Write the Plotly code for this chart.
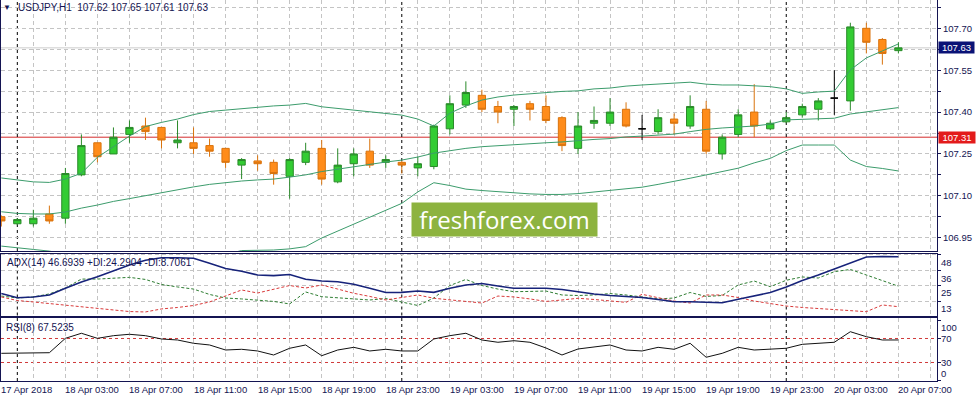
import numpy as np
import plotly.graph_objects as go

# ---------------- data (USDJPY H1, 17 Apr 23:00 .. 20 Apr 07:00) ----------------
bar_open = [107.025, 107.00, 107.00, 107.035, 107.02, 107.175, 107.29, 107.25, 107.32, 107.35,
            107.345, 107.29, 107.29, 107.28, 107.27, 107.21, 107.225, 107.22, 107.17, 107.22,
            107.27, 107.15, 107.215, 107.26, 107.22, 107.22, 107.20, 107.205, 107.34, 107.425,
            107.46, 107.42, 107.41, 107.43, 107.42, 107.38, 107.27, 107.36, 107.36, 107.41,
            107.34, 107.33, 107.375, 107.35, 107.41, 107.25, 107.32, 107.40, 107.34, 107.365,
            107.39, 107.41, 107.45, 107.44, 107.70, 107.66, 107.62]
bar_high = [107.03, 107.02, 107.05, 107.065, 107.20, 107.32, 107.29, 107.345, 107.37, 107.38,
            107.345, 107.37, 107.345, 107.305, 107.27, 107.235, 107.245, 107.23, 107.235, 107.29,
            107.30, 107.27, 107.27, 107.305, 107.245, 107.225, 107.24, 107.355, 107.46, 107.51,
            107.48, 107.44, 107.425, 107.44, 107.46, 107.385, 107.40, 107.42, 107.45, 107.435,
            107.39, 107.41, 107.395, 107.46, 107.44, 107.32, 107.41, 107.50, 107.37, 107.40,
            107.43, 107.45, 107.55, 107.72, 107.72, 107.665, 107.65]
bar_low = [106.99, 106.995, 106.99, 107.00, 107.00, 107.17, 107.22, 107.25, 107.29, 107.30,
           107.27, 107.27, 107.25, 107.24, 107.20, 107.16, 107.19, 107.14, 107.09, 107.21,
           107.14, 107.145, 107.17, 107.20, 107.20, 107.18, 107.17, 107.195, 107.32, 107.415,
           107.40, 107.36, 107.35, 107.37, 107.36, 107.26, 107.25, 107.34, 107.35, 107.345,
           107.30, 107.32, 107.32, 107.34, 107.25, 107.23, 107.31, 107.31, 107.335, 107.36,
           107.38, 107.37, 107.39, 107.405, 107.61, 107.57, 107.61]
bar_close = [107.01, 107.015, 107.02, 107.01, 107.18, 107.28, 107.24, 107.31, 107.345, 107.33,
             107.30, 107.30, 107.27, 107.26, 107.22, 107.23, 107.215, 107.18, 107.23, 107.26,
             107.16, 107.21, 107.25, 107.21, 107.23, 107.21, 107.215, 107.35, 107.43, 107.47,
             107.41, 107.40, 107.42, 107.41, 107.37, 107.28, 107.35, 107.37, 107.40, 107.35,
             107.34, 107.38, 107.36, 107.42, 107.26, 107.31, 107.39, 107.35, 107.36, 107.38,
             107.42, 107.44, 107.45, 107.705, 107.65, 107.61, 107.63]

bb_upper = [107.164, 107.157, 107.150, 107.148, 107.160, 107.181, 107.238, 107.276, 107.314, 107.348,
            107.363, 107.375, 107.391, 107.402, 107.407, 107.413, 107.418, 107.422, 107.425, 107.431,
            107.419, 107.413, 107.407, 107.401, 107.396, 107.389, 107.375, 107.350, 107.396, 107.422,
            107.443, 107.454, 107.461, 107.466, 107.469, 107.474, 107.476, 107.483, 107.486, 107.493,
            107.497, 107.500, 107.504, 107.507, 107.500, 107.497, 107.497, 107.495, 107.491, 107.483,
            107.467, 107.472, 107.475, 107.551, 107.594, 107.619, 107.644]
bb_mid = [107.043, 107.037, 107.035, 107.035, 107.042, 107.056, 107.067, 107.080, 107.090, 107.101,
          107.112, 107.121, 107.132, 107.141, 107.148, 107.153, 107.157, 107.160, 107.167, 107.175,
          107.187, 107.196, 107.203, 107.214, 107.221, 107.228, 107.239, 107.253, 107.262, 107.270,
          107.276, 107.280, 107.284, 107.287, 107.290, 107.293, 107.298, 107.302, 107.305, 107.311,
          107.314, 107.318, 107.321, 107.330, 107.338, 107.343, 107.346, 107.350, 107.357, 107.372,
          107.374, 107.376, 107.378, 107.393, 107.400, 107.407, 107.416]
bb_lower = [106.920, 106.913, 106.908, 106.902, 106.892, 106.877, 106.863, 106.852, 106.845, 106.841,
            106.841, 106.845, 106.852, 106.863, 106.890, 106.904, 106.905, 106.906, 106.910, 106.918,
            106.949, 106.974, 106.999, 107.024, 107.049, 107.073, 107.114, 107.147, 107.137, 107.124,
            107.119, 107.115, 107.110, 107.107, 107.105, 107.105, 107.108, 107.114, 107.119, 107.124,
            107.131, 107.141, 107.151, 107.163, 107.175, 107.187, 107.199, 107.218, 107.234, 107.262,
            107.282, 107.282, 107.282, 107.228, 107.205, 107.198, 107.189]

adx = [18.7, 15.5, 16.1, 17.6, 22.7, 27.5, 31.5, 35.8, 40.4, 44.0,
       45.9, 45.9, 45.5, 41.7, 37.7, 35.6, 32.8, 32.3, 33.2, 29.5,
       28.2, 27.7, 25.7, 22.7, 19.5, 19.6, 20.6, 19.6, 22.7, 25.2,
       26.3, 24.4, 22.7, 22.7, 22.7, 21.8, 19.9, 18.4, 17.2, 16.4,
       15.7, 14.2, 12.5, 12.5, 12.0, 11.7, 14.3, 16.8, 19.5, 23.7,
       28.6, 32.8, 37.3, 41.9, 46.5, 46.9, 46.69]
plus_di = [16.8, 15.3, 16.1, 18.4, 22.9, 29.7, 29.7, 30.3, 31.0, 29.4,
           25.6, 23.7, 22.1, 18.0, 15.3, 14.6, 13.8, 12.7, 10.8, 19.9,
           16.3, 15.3, 14.6, 13.8, 14.9, 12.3, 9.6, 15.3, 24.8, 29.4,
           24.8, 22.1, 20.1, 20.3, 20.6, 17.6, 17.2, 17.6, 18.7, 17.6,
           16.1, 14.6, 15.3, 19.5, 16.5, 17.2, 25.2, 28.2, 23.9, 28.8,
           31.3, 30.5, 35.3, 37.0, 32.8, 28.6, 24.29]
minus_di = [16.1, 13.4, 12.3, 11.1, 10.0, 8.9, 7.7, 6.6, 5.0, 4.7,
            7.0, 8.1, 9.6, 12.3, 16.8, 21.4, 19.1, 22.1, 24.8, 22.9,
            25.2, 22.1, 18.9, 16.5, 13.8, 15.7, 17.6, 15.1, 13.8, 12.5,
            11.5, 16.8, 16.1, 14.6, 12.7, 13.8, 15.1, 14.2, 13.3, 12.0,
            18.1, 15.3, 13.0, 11.5, 17.6, 17.6, 15.7, 13.0, 11.3, 9.2,
            8.1, 7.2, 6.2, 5.4, 4.9, 10.0, 8.71]
rsi = [45.3, 45.8, 45.8, 46.3, 70.3, 78.7, 70.3, 74.7, 77.0, 74.7,
       69.2, 67.5, 62.0, 59.2, 50.8, 52.0, 49.2, 42.5, 53.7, 59.2,
       41.3, 50.8, 55.3, 49.2, 52.0, 49.2, 49.2, 69.2, 74.7, 78.7,
       67.5, 63.7, 66.3, 63.7, 54.2, 42.5, 52.5, 56.3, 59.2, 50.8,
       49.2, 55.3, 52.0, 62.0, 38.7, 45.3, 55.3, 50.8, 52.5, 53.7,
       60.3, 62.0, 63.7, 81.3, 73.0, 67.5, 67.52]

tick_idx = [0, 4, 8, 12, 16, 20, 24, 28, 32, 36, 40, 44, 48, 52, 56]
tick_labels = ["17 Apr 2018", "18 Apr 03:00", "18 Apr 07:00", "18 Apr 11:00", "18 Apr 15:00",
               "18 Apr 19:00", "18 Apr 23:00", "19 Apr 03:00", "19 Apr 07:00", "19 Apr 11:00",
               "19 Apr 15:00", "19 Apr 19:00", "19 Apr 23:00", "20 Apr 03:00", "20 Apr 07:00"]
day_starts = [1, 25, 49]
price_grid = [106.95, 107.025, 107.10, 107.175, 107.25, 107.325, 107.40, 107.475,
              107.55, 107.625, 107.70, 107.775]
price_text = ["106.95", "", "107.10", "", "107.25", "", "107.40", "", "107.55", "", "107.70", ""]
level_line = 107.31
adx_levels = [48, 36, 25, 13]
rsi_levels = [70, 30]
rsi_labels = [100, 70, 30, 0]
adx_title = "ADX(14) 46.6939 +DI:24.2904 -DI:8.7061"
rsi_title = "RSI(8) 67.5235"

# ---------------- styling ----------------
FONT = "Liberation Sans, Arial, sans-serif"
NAVY = "#141452"
GRID = "#c4c4c4"
BAND = "#3c9c6c"

idx = np.arange(len(bar_open))
o = np.array(bar_open); h = np.array(bar_high); l = np.array(bar_low); c = np.array(bar_close)
doji = o == c
norm = ~doji

fig = go.Figure()

for band in (bb_upper, bb_mid, bb_lower):
    fig.add_trace(go.Scatter(x=idx, y=band, mode="lines", line=dict(color=BAND, width=1),
                             hoverinfo="skip", xaxis="x", yaxis="y"))

fig.add_trace(go.Candlestick(
    x=idx[norm], open=o[norm], high=h[norm], low=l[norm], close=c[norm],
    increasing=dict(line=dict(color="#2a8a2a", width=1), fillcolor="#33cc33"),
    decreasing=dict(line=dict(color="#d9730d", width=1), fillcolor="#ff8c1a"),
    whiskerwidth=0, hoverinfo="skip", xaxis="x", yaxis="y"))
fig.add_trace(go.Candlestick(
    x=idx[doji], open=o[doji], high=h[doji], low=l[doji], close=c[doji],
    increasing=dict(line=dict(color="#000000", width=1), fillcolor="#000000"),
    decreasing=dict(line=dict(color="#000000", width=1), fillcolor="#000000"),
    whiskerwidth=0, hoverinfo="skip", xaxis="x", yaxis="y"))

fig.add_trace(go.Scatter(x=idx, y=plus_di, mode="lines",
                         line=dict(color="#2e7d32", width=1, dash="3px,2px"),
                         hoverinfo="skip", xaxis="x", yaxis="y2"))
fig.add_trace(go.Scatter(x=idx, y=minus_di, mode="lines",
                         line=dict(color="#d83a3a", width=1, dash="3px,2px"),
                         hoverinfo="skip", xaxis="x", yaxis="y2"))
fig.add_trace(go.Scatter(x=idx, y=adx, mode="lines", line=dict(color="#17237a", width=1.6),
                         hoverinfo="skip", xaxis="x", yaxis="y2"))

fig.add_trace(go.Scatter(x=idx, y=rsi, mode="lines", line=dict(color="#111111", width=1),
                         hoverinfo="skip", xaxis="x", yaxis="y3"))

shapes = []
shapes.append(dict(type="line", xref="x domain", x0=0, x1=1, yref="y", y0=c[-1], y1=c[-1],
                   line=dict(color="#cccccc", width=1), layer="below"))
shapes.append(dict(type="line", xref="x domain", x0=0, x1=1, yref="y", y0=level_line, y1=level_line,
                   line=dict(color="#d42a2a", width=1), layer="below"))
for lv in rsi_levels:
    shapes.append(dict(type="line", xref="x domain", x0=0, x1=1, yref="y3", y0=lv, y1=lv,
                       line=dict(color="#d03a3a", width=1, dash="3px,3px"), layer="below"))
for d in day_starts:
    for yr in ("y domain", "y2 domain", "y3 domain"):
        shapes.append(dict(type="line", xref="x", x0=d, x1=d, yref=yr, y0=0, y1=1,
                           line=dict(color="#000000", width=1, dash="3px,3px"), layer="below"))

ann = []
tf = dict(family=FONT, size=9.5, color=NAVY)
hf = dict(family=FONT, size=10, color=NAVY)
ann.append(dict(xref="paper", yref="paper", x=0.0069, y=0.981, text="▼", showarrow=False,
                xanchor="center", yanchor="middle", font=dict(family=FONT, size=8, color=NAVY)))
ann.append(dict(xref="paper", yref="paper", x=0.016, y=0.981, showarrow=False,
                xanchor="left", yanchor="middle", font=hf,
                text="USDJPY,H1  %.2f %.2f %.2f %.2f" % (o[-1], h[-1], l[-1], c[-1])))
ann.append(dict(xref="paper", yref="paper", x=0.004, y=0.3115, showarrow=False,
                xanchor="left", yanchor="middle", font=hf, text=adx_title))
ann.append(dict(xref="paper", yref="paper", x=0.003, y=0.1409, showarrow=False,
                xanchor="left", yanchor="middle", font=hf, text=rsi_title))
# highlighted price labels
ann.append(dict(xref="paper", yref="y", x=1, y=c[-1], xanchor="left", yanchor="middle",
                xshift=1, showarrow=False, text="%.2f" % c[-1], bgcolor="#0a1276",
                width=35, height=11, borderpad=0,
                font=dict(family=FONT, size=9.5, color="white")))
ann.append(dict(xref="paper", yref="y", x=1, y=level_line, xanchor="left", yanchor="middle",
                xshift=1, showarrow=False, text="%.2f" % level_line, bgcolor="#e31b1b",
                width=36, height=11, borderpad=0,
                font=dict(family=FONT, size=9.5, color="white")))
for lv in adx_levels:
    ann.append(dict(xref="paper", yref="y2", x=1, y=lv, xanchor="left", yanchor="top",
                    xshift=2, showarrow=False, text=str(lv), font=tf))
for lv in rsi_labels:
    ya = "top" if lv == 100 else ("bottom" if lv == 0 else "middle")
    ann.append(dict(xref="paper", yref="y3", x=1, y=lv, xanchor="left", yanchor=ya,
                    xshift=2, showarrow=False, text=str(lv), font=tf))
for ti, tl in zip(tick_idx, tick_labels):
    ann.append(dict(xref="x", yref="paper", x=ti, y=0, xanchor="left", yanchor="top",
                    xshift=-2, yshift=-1, showarrow=False, text=tl, font=tf))
# watermark
ann.append(dict(xref="paper", yref="paper", x=0.5376, y=0.4226, xanchor="center", yanchor="middle",
                showarrow=False, text="freshforex.com", bgcolor="#8db33f", width=185, height=33,
                borderpad=0, font=dict(family="Open Sans, sans-serif", size=24, color="white")))

axis_common = dict(showline=True, mirror=True, linecolor=NAVY, linewidth=1, zeroline=False)

fig.update_layout(
    width=977, height=397,
    margin=dict(l=1, r=40, t=0, b=16),
    paper_bgcolor="white", plot_bgcolor="white",
    showlegend=False, boxgap=0.35,
    shapes=shapes, annotations=ann,
    xaxis=dict(range=[-0.019, 58.41], tickmode="array", tickvals=list(range(0, 59, 2)),
               showticklabels=False, showgrid=True, gridcolor=GRID, griddash="4px,3px",
               gridwidth=1, showline=True, mirror="all", linecolor=NAVY, linewidth=1,
               zeroline=False, anchor="y3", rangeslider=dict(visible=False), ticks=""),
    yaxis=dict(domain=[0.3412, 1.0], range=[106.9024, 107.8014], side="right",
               tickmode="array", tickvals=price_grid, ticktext=price_text,
               showgrid=True, gridcolor=GRID, griddash="4px,3px", gridwidth=1,
               ticks="outside", ticklen=3, tickcolor=NAVY,
               tickfont=dict(family=FONT, size=9.5, color=NAVY), **axis_common),
    yaxis2=dict(domain=[0.1719, 0.3346], range=[2.0, 49.12], side="right",
                tickmode="array", tickvals=adx_levels, showticklabels=False,
                showgrid=True, gridcolor=GRID, griddash="4px,3px", gridwidth=1,
                ticks="outside", ticklen=3, tickcolor=NAVY, **axis_common),
    yaxis3=dict(domain=[0.0, 0.1654], range=[-0.83, 104.17], side="right",
                tickmode="array", tickvals=rsi_labels, showticklabels=False,
                showgrid=False, ticks="outside", ticklen=3, tickcolor=NAVY, **axis_common),
)

fig.write_html("out.html")
